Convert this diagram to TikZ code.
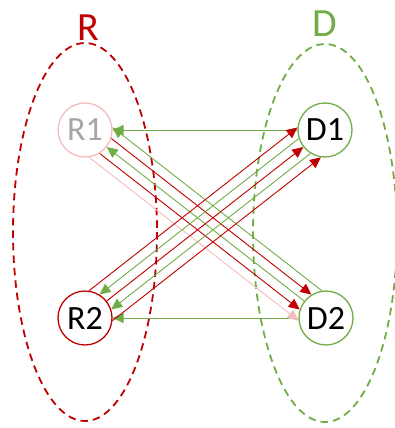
\documentclass[tikz,border=0pt]{standalone}
\usepackage{fontspec}
\setmainfont{Carlito}
\usetikzlibrary{arrows.meta,calc}
\definecolor{rred}{HTML}{C00000}
\definecolor{ggreen}{HTML}{70AD47}
\definecolor{ppink}{HTML}{F4BCBC}
\definecolor{ggray}{HTML}{A6A6A6}
\tikzset{
  nd/.style={circle, draw, line width=1.3pt, fill=white, minimum size=54pt, inner sep=0pt, font=\fontsize{34}{36}\selectfont},
  grp/.style={line width=1.8pt, dash pattern=on 7.5pt off 5pt},
  lnk/.style={line width=0.9pt},
  fwd/.style={arrows={-Triangle[length=11pt,width=10pt]}},
  bwd/.style={arrows={Triangle[length=11pt,width=10pt]-}},
  lbl/.style={font=\fontsize{40}{42}\selectfont},
}
% \linkab{A}{B}{offset}{style}
\newcommand{\linkab}[4]{%
  \pgfmathsetmacro\shv{sqrt(27.6*27.6-(#3)*(#3))}%
  \draw[lnk,#4,shorten <=\shv pt,shorten >=\shv pt]
    ($(#1)!#3pt!90:(#2)$) -- ($(#2)!#3pt!-90:(#1)$);%
}
\begin{document}
\begin{tikzpicture}[x=1pt,y=-1pt]
\useasboundingbox (0,0) rectangle (395,428);
% groups
\draw[grp, rred] (85,232) ellipse [x radius=72, y radius=189];
\draw[grp, ggreen] (325,233) ellipse [x radius=72, y radius=189];
\node[lbl, text=rred] (Rl) at (88,28) {R};
\node[lbl, text=ggreen] (Dl) at (325,24) {D};
% node positions
\coordinate (R1) at (85,130);
\coordinate (D1) at (325,130);
\coordinate (R2) at (85,318);
\coordinate (D2) at (326,318);
% horizontal links
\draw[lnk, fwd, ggreen, shorten <=27.6pt, shorten >=27.6pt] (D1) -- (R1);
\draw[lnk, fwd, ggreen, shorten <=27.6pt, shorten >=27.6pt] (D2) -- (R2);
% R1 -- D2 bundle
\linkab{R1}{D2}{19}{ggreen,bwd}
\linkab{R1}{D2}{9.5}{rred,fwd}
\linkab{R1}{D2}{0}{ggreen,bwd}
\linkab{R1}{D2}{-9.5}{rred,fwd}
\linkab{R1}{D2}{-19}{ppink,fwd}
% R2 -- D1 bundle
\linkab{R2}{D1}{19}{rred,fwd}
\linkab{R2}{D1}{9.5}{ggreen,bwd}
\linkab{R2}{D1}{0}{rred,fwd}
\linkab{R2}{D1}{-9.5}{ggreen,bwd}
\linkab{R2}{D1}{-19}{rred,fwd}
% nodes
\node[nd, draw=ppink, text=ggray] (nR1) at (R1) {R1};
\node[nd, draw=ggreen] (nD1) at (D1) {D1};
\node[nd, draw=rred] (nR2) at (R2) {R2};
\node[nd, draw=ggreen] (nD2) at (D2) {D2};
\end{tikzpicture}
\end{document}
